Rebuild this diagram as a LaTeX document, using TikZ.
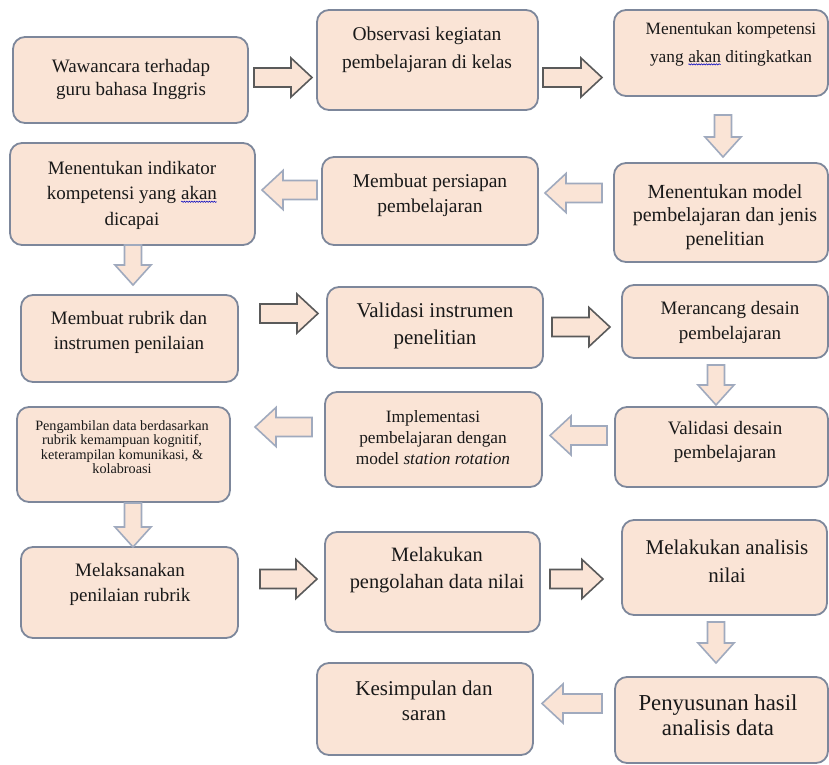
\documentclass[tikz,border=0pt]{standalone}
\usepackage{fontspec}
\setmainfont{Liberation Serif}
\newfontfamily\tnr{Liberation Serif}
\usetikzlibrary{calc,decorations.pathmorphing}
\definecolor{peach}{RGB}{250,228,214}
\definecolor{boxline}{RGB}{125,135,155}
\definecolor{darkarr}{RGB}{90,90,90}
\definecolor{lightarr}{RGB}{160,170,190}
\definecolor{txt}{RGB}{25,25,25}
\newcommand\spl[1]{\tikz[baseline=(w.base)]{\node[inner sep=0pt,outer sep=0pt](w){#1};\draw[blue!75!black,line width=0.5bp,decorate,decoration={snake,amplitude=0.7bp,segment length=2.5bp}]([yshift=-2.2bp]w.base west)--([yshift=-2.2bp]w.base east);}}
\tikzset{
  box/.style={draw=boxline, line width=1.8bp, fill=peach, rounded corners=12bp, inner sep=0pt},
  lbl/.style={align=center, text=txt, inner sep=0pt},
  fs/.style 2 args={font=\tnr\fontsize{#1bp}{#2bp}\selectfont},
  rarrow/.style={draw=darkarr, line width=1.6bp, fill=peach, line join=miter,
    to path={let \p1=(\tikztostart), \p2=(\tikztotarget) in
      (\x1,\y1+9.5bp) -- (\x2-21bp,\y1+9.5bp) -- (\x2-21bp,\y1+19.5bp) -- (\x2,\y1)
      -- (\x2-21bp,\y1-19.5bp) -- (\x2-21bp,\y1-9.5bp) -- (\x1,\y1-9.5bp) -- cycle}},
  larrow/.style={draw=lightarr, line width=1.6bp, fill=peach, line join=miter,
    to path={let \p1=(\tikztostart), \p2=(\tikztotarget) in
      (\x1,\y1+9.5bp) -- (\x2+21bp,\y1+9.5bp) -- (\x2+21bp,\y1+19.5bp) -- (\x2,\y1)
      -- (\x2+21bp,\y1-19.5bp) -- (\x2+21bp,\y1-9.5bp) -- (\x1,\y1-9.5bp) -- cycle}},
  darrow/.style={draw=lightarr, line width=1.6bp, fill=peach, line join=miter,
    to path={let \p1=(\tikztostart), \p2=(\tikztotarget) in
      (\x1-8.5bp,\y1) -- (\x1-8.5bp,\y2+20bp) -- (\x1-18bp,\y2+20bp) -- (\x1,\y2)
      -- (\x1+18bp,\y2+20bp) -- (\x1+8.5bp,\y2+20bp) -- (\x1+8.5bp,\y1) -- cycle}},
}
\begin{document}
\begin{tikzpicture}[x=1bp,y=-1bp]
\useasboundingbox[fill=white] (0,0) rectangle (829,765);

% boxes
\node[box, minimum width=235bp, minimum height=86bp]  (b1)  at (130.5,80)  {};
\node[box, minimum width=221bp, minimum height=100bp] (b2)  at (427.5,60)  {};
\node[box, minimum width=214bp, minimum height=86bp]  (b3)  at (721,53)    {};
\node[box, minimum width=245bp, minimum height=102bp] (b4)  at (132.5,194) {};
\node[box, minimum width=216bp, minimum height=88bp]  (b5)  at (430,201)   {};
\node[box, minimum width=214bp, minimum height=99bp]  (b6)  at (721,212.5) {};
\node[box, minimum width=217bp, minimum height=87bp]  (b7)  at (129.5,338.5) {};
\node[box, minimum width=216bp, minimum height=81bp]  (b8)  at (435,327.5) {};
\node[box, minimum width=206bp, minimum height=73bp]  (b9)  at (725,321.5) {};
\node[box, minimum width=213bp, minimum height=95bp]  (b10) at (123.5,454.5) {};
\node[box, minimum width=217bp, minimum height=95bp]  (b11) at (433.5,439.5) {};
\node[box, minimum width=213bp, minimum height=80bp]  (b12) at (721.5,447) {};
\node[box, minimum width=217bp, minimum height=91bp]  (b13) at (129.5,592.5) {};
\node[box, minimum width=215bp, minimum height=100bp] (b14) at (432.5,582) {};
\node[box, minimum width=205bp, minimum height=95bp]  (b15) at (724.5,567.5) {};
\node[box, minimum width=213bp, minimum height=86bp]  (b16) at (721.5,720) {};
\node[box, minimum width=216bp, minimum height=92bp]  (b17) at (425,709)   {};

% texts
\node[lbl, fs={19}{23.5}]   (t1)  at (131,79.5)  {Wawancara terhadap\\guru bahasa Inggris};
\node[lbl, fs={19.5}{28.5}] (t2)  at (427,50)    {Observasi kegiatan\\pembelajaran di kelas};
\node[lbl, fs={17.3}{28}]   (t3)  at (731,44)    {Menentukan kompetensi\\yang \spl{akan} ditingkatkan};
\node[lbl, fs={19}{25.5}]   (t4)  at (132,195)   {Menentukan indikator\\kompetensi yang \spl{akan}\\dicapai};
\node[lbl, fs={19.5}{25}]   (t5)  at (430,195)   {Membuat persiapan\\pembelajaran};
\node[lbl, fs={20}{23.5}]   (t6)  at (725,217)   {Menentukan model\\pembelajaran dan jenis\\penelitian};
\node[lbl, fs={19}{25}]     (t7)  at (129,332.5) {Membuat rubrik dan\\instrumen penilaian};
\node[lbl, fs={21}{27}]     (t8)  at (435,325.5) {Validasi instrumen\\penelitian};
\node[lbl, fs={19}{25}]     (t9)  at (730,322.5) {Merancang desain\\pembelajaran};
\node[lbl, fs={14.2}{14.5}] (t10) at (122,447)   {Pengambilan data berdasarkan\\rubrik kemampuan kognitif,\\keterampilan komunikasi, \&\\kolabroasi};
\node[lbl, fs={17.3}{21}]   (t11) at (433,438)   {Implementasi\\pembelajaran dengan\\model \textit{station rotation}};
\node[lbl, fs={19}{24}]     (t12) at (725,442)   {Validasi desain\\pembelajaran};
\node[lbl, fs={19}{25}]     (t13) at (130,584.5) {Melaksanakan\\penilaian rubrik};
\node[lbl, fs={20.4}{27}]   (t14) at (437,570)   {Melakukan\\pengolahan data nilai};
\node[lbl, fs={21}{28}]     (t15) at (727,561)   {Melakukan analisis\\nilai};
\node[lbl, fs={22.8}{25}]   (t16) at (718,715.5) {Penyusunan hasil\\analisis data};
\node[lbl, fs={21}{25}]     (t17) at (424,700.5) {Kesimpulan dan\\saran};

% arrow end points
\coordinate (a12s) at (254,77.5);   \coordinate (a12e) at (312,77.5);
\coordinate (a23s) at (543,77.5);   \coordinate (a23e) at (602,77.5);
\coordinate (a36s) at (723,115);    \coordinate (a36e) at (723,157);
\coordinate (a65s) at (602,193);    \coordinate (a65e) at (545,193);
\coordinate (a54s) at (317,190);    \coordinate (a54e) at (262,190);
\coordinate (a47s) at (133,245);    \coordinate (a47e) at (133,285);
\coordinate (a78s) at (260,313.5);  \coordinate (a78e) at (318,313.5);
\coordinate (a89s) at (552,327);    \coordinate (a89e) at (610,327);
\coordinate (a912s) at (716,365);   \coordinate (a912e) at (716,405);
\coordinate (a1211s) at (607,435.5); \coordinate (a1211e) at (550,435.5);
\coordinate (a1110s) at (312,427);  \coordinate (a1110e) at (255,427);
\coordinate (a1013s) at (133,503);  \coordinate (a1013e) at (133,547);
\coordinate (a1314s) at (260,579);  \coordinate (a1314e) at (317,579);
\coordinate (a1415s) at (550,579);  \coordinate (a1415e) at (603,579);
\coordinate (a1516s) at (716,622);  \coordinate (a1516e) at (716,663);
\coordinate (a1617s) at (602,703.5); \coordinate (a1617e) at (542,703.5);

% block arrows
\draw[rarrow] (a12s) to (a12e);
\draw[rarrow] (a23s) to (a23e);
\draw[darrow] (a36s) to (a36e);
\draw[larrow] (a65s) to (a65e);
\draw[larrow] (a54s) to (a54e);
\draw[darrow] (a47s) to (a47e);
\draw[rarrow] (a78s) to (a78e);
\draw[rarrow] (a89s) to (a89e);
\draw[darrow] (a912s) to (a912e);
\draw[larrow] (a1211s) to (a1211e);
\draw[larrow] (a1110s) to (a1110e);
\draw[darrow] (a1013s) to (a1013e);
\draw[rarrow] (a1314s) to (a1314e);
\draw[rarrow] (a1415s) to (a1415e);
\draw[darrow] (a1516s) to (a1516e);
\draw[larrow] (a1617s) to (a1617e);
\end{tikzpicture}
\end{document}
